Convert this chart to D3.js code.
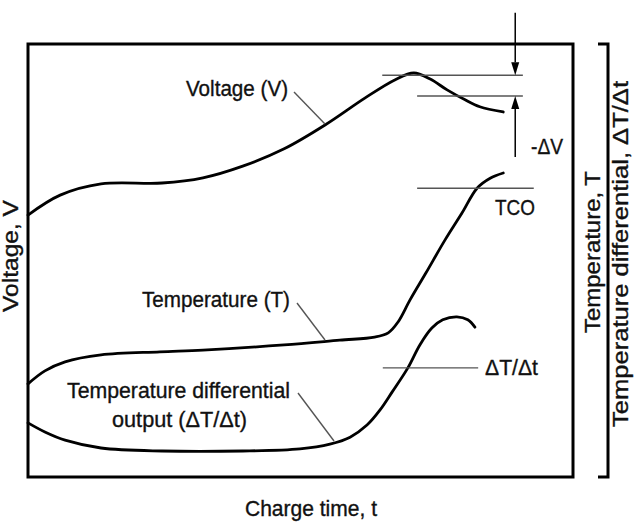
<!DOCTYPE html>
<html>
<head>
<meta charset="utf-8">
<script src="https://cdn.jsdelivr.net/npm/d3@7"></script>
<style>
html,body{margin:0;padding:0;background:#fff;}
svg{display:block;}
text{font-family:"Liberation Sans",Arial,Helvetica,sans-serif;fill:#111;stroke:#111;stroke-width:0.35px;}
</style>
</head>
<body>
<svg id="chart" width="637" height="531"></svg>
<script>
// ---- data (charge time and signal levels, in relative units 0-100) ----
const voltageTime   = [0, 5.9, 13.4, 24.6, 32.1, 39.4, 47.0, 54.5, 61.8, 67.3, 70.8, 73.8, 76.9, 80.2, 82.9, 87.2];
const voltageValues = [60.5, 65.1, 67.7, 67.9, 69.1, 71.8, 75.8, 81.3, 87.5, 91.7, 93.3, 91.9, 89.4, 87.1, 85.5, 84.3];

const tempTime   = [0, 3.1, 6.8, 13.4, 24.2, 32.1, 47.0, 57.2, 63.6, 66.1, 67.9, 70.1, 73.0, 76.5, 79.6, 82.4, 84.8, 87.2];
const tempValues = [21.5, 24.5, 26.6, 28.2, 28.9, 29.3, 30.5, 31.6, 32.3, 33.3, 35.8, 40.9, 47.1, 54.7, 60.9, 66.7, 69.0, 70.2];

const diffTime   = [0, 3.1, 6.8, 13.4, 24.6, 39.4, 49.9, 55.4, 59.1, 62.2, 64.6, 66.8, 69.7, 71.9, 74.1, 76.1, 78.7, 80.7, 82.0];
const diffValues = [12.5, 10.4, 8.5, 6.7, 6.0, 6.0, 6.5, 7.6, 9.2, 12.0, 15.5, 19.6, 25.2, 30.5, 34.4, 36.3, 37.0, 36.3, 34.6];

// annotation levels (same relative units)
const dvLevels   = [92.8, 88.0];     // voltage peak level, level after the drop
const dvLineX    = [[65.0, 90.8], [71.4, 90.8]];
const dvArrowX   = 89.4;
const dvArrowEnds = [107.2, 73.9];   // outer ends of the two arrows
const tcoLevel   = 66.7;
const tcoLineX   = [71.4, 92.8];
const dtLevel    = 25.2;
const dtLineX    = [65.1, 82.6];

const seriesLabels = ["Voltage (V)", "Temperature (T)", "Temperature differential", "output (ΔT/Δt)"];
const markerLabels = ["-ΔV", "TCO", "ΔT/Δt"];
const axisLabels = ["Charge time, t", "Voltage, V", "Temperature, T", "Temperature differential, ΔT/Δt"];

// ---- layout ----
const W = 637, H = 531;
const margin = {left: 28, top: 44, right: 64, bottom: 54};
const svg = d3.select("#chart");

const x = d3.scaleLinear().domain([0, 100]).range([margin.left, W - margin.right]);
const y = d3.scaleLinear().domain([0, 100]).range([H - margin.bottom, margin.top]);

// frame
svg.append("rect")
  .attr("x", x(0)).attr("y", y(100))
  .attr("width", x(100) - x(0)).attr("height", y(0) - y(100))
  .attr("fill", "none").attr("stroke", "#000").attr("stroke-width", 3);

// right bracket
const bx = x(100) + 35;
svg.append("path")
  .attr("d", `M${bx - 10},${y(100)} H${bx} V${y(0)} H${bx - 10}`)
  .attr("fill", "none").attr("stroke", "#000").attr("stroke-width", 3);

// curves
const line = d3.line().x(d => x(d[0])).y(d => y(d[1])).curve(d3.curveCatmullRom.alpha(0.5));
const series = [
  d3.zip(voltageTime, voltageValues),
  d3.zip(tempTime, tempValues),
  d3.zip(diffTime, diffValues)
];
svg.selectAll("path.curve").data(series).enter().append("path")
  .attr("class", "curve")
  .attr("d", line)
  .attr("fill", "none").attr("stroke", "#000").attr("stroke-width", 2.8)
  .attr("stroke-linecap", "round");

// reference lines
const refColor = "#555";
function hline(level, xs) {
  svg.append("line")
    .attr("x1", x(xs[0])).attr("x2", x(xs[1]))
    .attr("y1", y(level)).attr("y2", y(level))
    .attr("stroke", refColor).attr("stroke-width", 1.4);
}
hline(dvLevels[0], dvLineX[0]);
hline(dvLevels[1], dvLineX[1]);
hline(tcoLevel, tcoLineX);
hline(dtLevel, dtLineX);

// -ΔV arrows
function arrow(fromV, toV) {
  const ax = x(dvArrowX), y0 = y(fromV), y1 = y(toV);
  const dir = Math.sign(y1 - y0);
  const headL = 13, headW = 4;
  svg.append("line").attr("x1", ax).attr("x2", ax).attr("y1", y0).attr("y2", y1 - dir * headL)
    .attr("stroke", "#000").attr("stroke-width", 1.5);
  svg.append("path")
    .attr("d", `M${ax},${y1} L${ax - headW},${y1 - dir * headL} L${ax + headW},${y1 - dir * headL} Z`)
    .attr("fill", "#000");
}
arrow(dvArrowEnds[0], dvLevels[0]);
arrow(dvArrowEnds[1], dvLevels[1]);

// leader lines (label to curve)
const leaders = [
  [[294, 92], [325, 124]],
  [[297, 303], [325, 340]],
  [[298, 393], [334, 441]]
];
svg.selectAll("line.leader").data(leaders).enter().append("line")
  .attr("class", "leader")
  .attr("x1", d => d[0][0]).attr("y1", d => d[0][1])
  .attr("x2", d => d[1][0]).attr("y2", d => d[1][1])
  .attr("stroke", refColor).attr("stroke-width", 1.4);

// horizontal texts
function htext(str, x0, base, width, size) {
  svg.append("text").attr("x", x0).attr("y", base)
    .attr("font-size", size || 21.5)
    .attr("textLength", width).attr("lengthAdjust", "spacingAndGlyphs")
    .text(str);
}
htext(seriesLabels[0], 186, 96, 102);
htext(seriesLabels[1], 142, 307, 148);
htext(seriesLabels[2], 67, 398, 223);
htext(seriesLabels[3], 112, 427, 135);
htext(markerLabels[0], 531, 154, 32);
htext(markerLabels[1], 495, 215, 40);
htext(markerLabels[2], 485, 375, 53);
htext(axisLabels[0], 245, 516, 132);

// rotated texts
function vtext(str, baseX, cy, len, size) {
  svg.append("text")
    .attr("transform", `translate(${baseX},${cy}) rotate(-90)`)
    .attr("text-anchor", "middle")
    .attr("font-size", size || 21.5)
    .attr("textLength", len).attr("lengthAdjust", "spacingAndGlyphs")
    .text(str);
}
vtext(axisLabels[1], 18, 256, 112);
vtext(axisLabels[2], 600, 252, 162);
vtext(axisLabels[3], 628, 254, 346);
</script>
</body>
</html>
